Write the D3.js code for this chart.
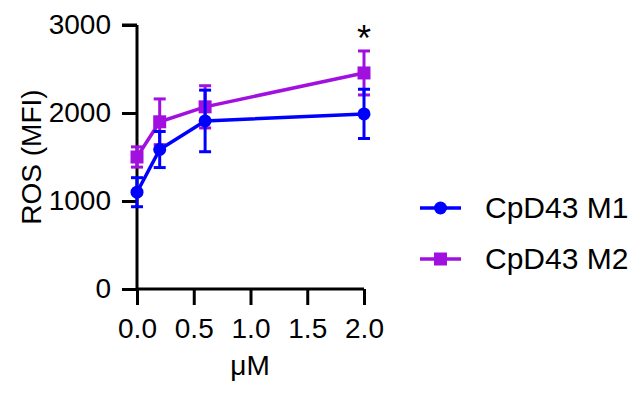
<!DOCTYPE html>
<html><head><meta charset="utf-8">
<script src="https://cdn.jsdelivr.net/npm/d3@7"></script>
<style>body{margin:0;background:#fff}svg{display:block}text{font-family:Arial,"Liberation Sans",sans-serif;fill:#000}</style>
</head><body><svg id="c" width="644" height="396"></svg>
<script>
const doses = [0, 0.2, 0.6, 2.0];
const m1Mean = [1100, 1585, 1910, 1990];
const m1Err = [165, 205, 350, 280];
const m2Mean = [1500, 1900, 2070, 2455];
const m2Err = [115, 260, 240, 250];
const seriesNames = ["CpD43 M1", "CpD43 M2"];
const seriesColors = ["#0000ff", "#a210e0"];
const xTicks = [0, 0.5, 1.0, 1.5, 2.0];
const yTicks = [0, 1000, 2000, 3000];

const svg = d3.select("#c");
const x = d3.scaleLinear().domain([0, 2]).range([137, 364]);
const y = d3.scaleLinear().domain([0, 3000]).range([289, 25]);

const fs = 28;
const yAx = svg.append("g").attr("transform", "translate(137,0)")
  .call(d3.axisLeft(y).tickValues(yTicks).tickFormat(d3.format("d")).tickSize(15).tickPadding(11));
const xAx = svg.append("g").attr("transform", "translate(0,289)")
  .call(d3.axisBottom(x).tickValues(xTicks).tickFormat(d3.format(".1f")).tickSize(16).tickPadding(13));
[yAx, xAx].forEach(g => {
  g.select(".domain").attr("stroke", "#000").attr("stroke-width", 3);
  g.selectAll(".tick line").attr("stroke", "#000").attr("stroke-width", 3);
  g.selectAll(".tick text").attr("font-size", fs).attr("font-family", "Arial, 'Liberation Sans', sans-serif").attr("fill", "#000");
});
yAx.select(".domain").attr("d", "M0,289V25M-15,25H0");
xAx.select(".domain").attr("d", "M137,0H364");

svg.append("text").attr("transform", "translate(41,157) rotate(-90)")
  .attr("text-anchor", "middle").attr("font-size", fs).text("ROS (MFI)");
svg.append("text").attr("x", 250).attr("y", 375)
  .attr("text-anchor", "middle").attr("font-size", fs).text("μM");

const series = [
  {name: seriesNames[1], mean: m2Mean, err: m2Err, color: seriesColors[1], shape: "square"},
  {name: seriesNames[0], mean: m1Mean, err: m1Err, color: seriesColors[0], shape: "circle"}
];
const line = d3.line().x(d => x(d.x)).y(d => y(d.y));
series.forEach(s => {
  const pts = doses.map((d, i) => ({x: d, y: s.mean[i], e: s.err[i]}));
  const g = svg.append("g");
  g.append("path").attr("d", line(pts)).attr("fill", "none").attr("stroke", s.color).attr("stroke-width", 3.5);
  pts.forEach(p => {
    const cx = x(p.x), t = y(p.y + p.e), b = y(p.y - p.e);
    g.append("line").attr("x1", cx).attr("x2", cx).attr("y1", t).attr("y2", b).attr("stroke", s.color).attr("stroke-width", 3);
    [t, b].forEach(yy => g.append("line").attr("x1", cx - 6).attr("x2", cx + 6).attr("y1", yy).attr("y2", yy).attr("stroke", s.color).attr("stroke-width", 3));
    if (s.shape === "circle") g.append("circle").attr("cx", cx).attr("cy", y(p.y)).attr("r", 6.5).attr("fill", s.color);
    else g.append("rect").attr("x", cx - 6.5).attr("y", y(p.y) - 6.5).attr("width", 13).attr("height", 13).attr("fill", s.color);
  });
});

svg.append("text").attr("x", x(2)).attr("y", 51).attr("text-anchor", "middle").attr("font-size", 36).text("*");

const leg = [{name: seriesNames[0], color: seriesColors[0], shape: "circle", y: 208},
             {name: seriesNames[1], color: seriesColors[1], shape: "square", y: 259}];
leg.forEach(l => {
  svg.append("line").attr("x1", 420).attr("x2", 461).attr("y1", l.y).attr("y2", l.y).attr("stroke", l.color).attr("stroke-width", 3.5);
  if (l.shape === "circle") svg.append("circle").attr("cx", 440.5).attr("cy", l.y).attr("r", 6.5).attr("fill", l.color);
  else svg.append("rect").attr("x", 434).attr("y", l.y - 6.5).attr("width", 13).attr("height", 13).attr("fill", l.color);
  svg.append("text").attr("x", 485).attr("y", l.y + 10).attr("font-size", 30).text(l.name);
});
</script></body></html>
